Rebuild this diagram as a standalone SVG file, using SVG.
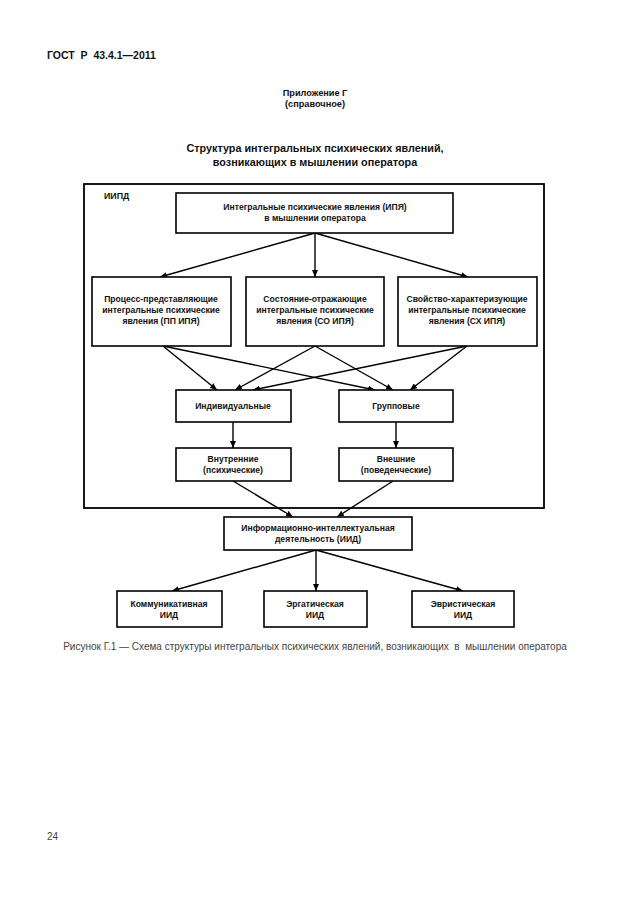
<svg xmlns="http://www.w3.org/2000/svg" width="630" height="913" viewBox="0 0 630 913">
<defs>
<style>
.bx{fill:#fff;stroke:#000;stroke-width:1.6}
.t{font-family:"Liberation Sans",Arial,sans-serif;font-size:8.6px;font-weight:bold;fill:#111;text-anchor:middle}
.h{font-family:"Liberation Sans",Arial,sans-serif;font-weight:bold;fill:#111}
.ln{stroke:#000;stroke-width:1.4;fill:none;marker-end:url(#ah)}
</style>
<marker id="ah" markerUnits="userSpaceOnUse" markerWidth="8" markerHeight="6" refX="7" refY="3" orient="auto">
<path d="M0,0 L7,3 L0,6 z" fill="#000"/>
</marker>
</defs>
<rect width="630" height="913" fill="#fff"/>
<text class="h" x="47" y="59" font-size="10.5" xml:space="preserve">ГОСТ  Р  43.4.1—2011</text>
<text class="h" x="315" y="96" font-size="9.2" text-anchor="middle">Приложение Г</text>
<text class="h" x="315" y="107" font-size="9.2" text-anchor="middle">(справочное)</text>
<text class="h" x="315" y="152" font-size="10.8" text-anchor="middle">Структура интегральных психических явлений,</text>
<text class="h" x="315" y="166" font-size="10.8" text-anchor="middle">возникающих в мышлении оператора</text>
<g id="frame">
<rect x="84" y="184" width="460" height="324" fill="none" stroke="#000" stroke-width="1.8"/>
<text class="h" x="104" y="199" font-size="8.8">ИИПД</text>
</g>
<g id="connectors">
<line class="ln" x1="315" y1="233" x2="160" y2="277"/>
<line class="ln" x1="315" y1="233" x2="315" y2="277"/>
<line class="ln" x1="315" y1="233" x2="468" y2="277"/>
<line class="ln" x1="163" y1="346" x2="217" y2="390"/>
<line class="ln" x1="163" y1="346" x2="375" y2="390"/>
<line class="ln" x1="315" y1="346" x2="235" y2="390"/>
<line class="ln" x1="315" y1="346" x2="393" y2="390"/>
<line class="ln" x1="467" y1="346" x2="253" y2="390"/>
<line class="ln" x1="467" y1="346" x2="410" y2="390"/>
<line class="ln" x1="233" y1="422" x2="233" y2="448"/>
<line class="ln" x1="396" y1="422" x2="396" y2="448"/>
<line class="ln" x1="233" y1="481" x2="293" y2="517"/>
<line class="ln" x1="393" y1="481" x2="337" y2="517"/>
<line class="ln" x1="316" y1="550" x2="172" y2="591"/>
<line class="ln" x1="316" y1="550" x2="316" y2="591"/>
<line class="ln" x1="316" y1="550" x2="463" y2="591"/>
</g>
<g id="ipya">
<rect class="bx" x="176" y="193" width="277" height="40"/>
<text class="t" x="315" y="210">Интегральные психические явления (ИПЯ)</text>
<text class="t" x="315" y="221">в мышлении оператора</text>
</g>
<g id="pp">
<rect class="bx" x="92" y="277" width="139" height="69"/>
<text class="t" x="161" y="302">Процесс-представляющие</text>
<text class="t" x="161" y="313">интегральные психические</text>
<text class="t" x="161" y="324">явления (ПП ИПЯ)</text>
</g>
<g id="so">
<rect class="bx" x="246" y="277" width="138" height="69"/>
<text class="t" x="315" y="302">Состояние-отражающие</text>
<text class="t" x="315" y="313">интегральные психические</text>
<text class="t" x="315" y="324">явления (СО ИПЯ)</text>
</g>
<g id="sh">
<rect class="bx" x="398" y="277" width="139" height="69"/>
<text class="t" x="467" y="302">Свойство-характеризующие</text>
<text class="t" x="467" y="313">интегральные психические</text>
<text class="t" x="467" y="324">явления (СХ ИПЯ)</text>
</g>
<g id="ind">
<rect class="bx" x="176" y="390" width="115" height="32"/>
<text class="t" x="233" y="409">Индивидуальные</text>
</g>
<g id="grp">
<rect class="bx" x="339" y="390" width="114" height="32"/>
<text class="t" x="396" y="409">Групповые</text>
</g>
<g id="vnutr">
<rect class="bx" x="176" y="448" width="115" height="33"/>
<text class="t" x="233" y="462">Внутренние</text>
<text class="t" x="233" y="473">(психические)</text>
</g>
<g id="vnesh">
<rect class="bx" x="339" y="448" width="114" height="33"/>
<text class="t" x="396" y="462">Внешние</text>
<text class="t" x="396" y="473">(поведенческие)</text>
</g>
<g id="iid">
<rect class="bx" x="224" y="517" width="188" height="33"/>
<text class="t" x="318" y="531">Информационно-интеллектуальная</text>
<text class="t" x="318" y="542">деятельность (ИИД)</text>
</g>
<g id="komm">
<rect class="bx" x="117" y="591" width="105" height="36"/>
<text class="t" x="169" y="607">Коммуникативная</text>
<text class="t" x="169" y="618">ИИД</text>
</g>
<g id="erg">
<rect class="bx" x="264" y="591" width="103" height="36"/>
<text class="t" x="315" y="607">Эргатическая</text>
<text class="t" x="315" y="618">ИИД</text>
</g>
<g id="evr">
<rect class="bx" x="412" y="591" width="102" height="36"/>
<text class="t" x="463" y="607">Эвристическая</text>
<text class="t" x="463" y="618">ИИД</text>
</g>
<text x="315" y="650" font-family="Liberation Sans,Arial,sans-serif" font-size="10" fill="#444" text-anchor="middle" xml:space="preserve">Рисунок Г.1 — Схема структуры интегральных психических явлений, возникающих  в  мышлении оператора</text>
<text x="47" y="840" font-family="Liberation Sans,Arial,sans-serif" font-size="10" fill="#444">24</text>
</svg>
